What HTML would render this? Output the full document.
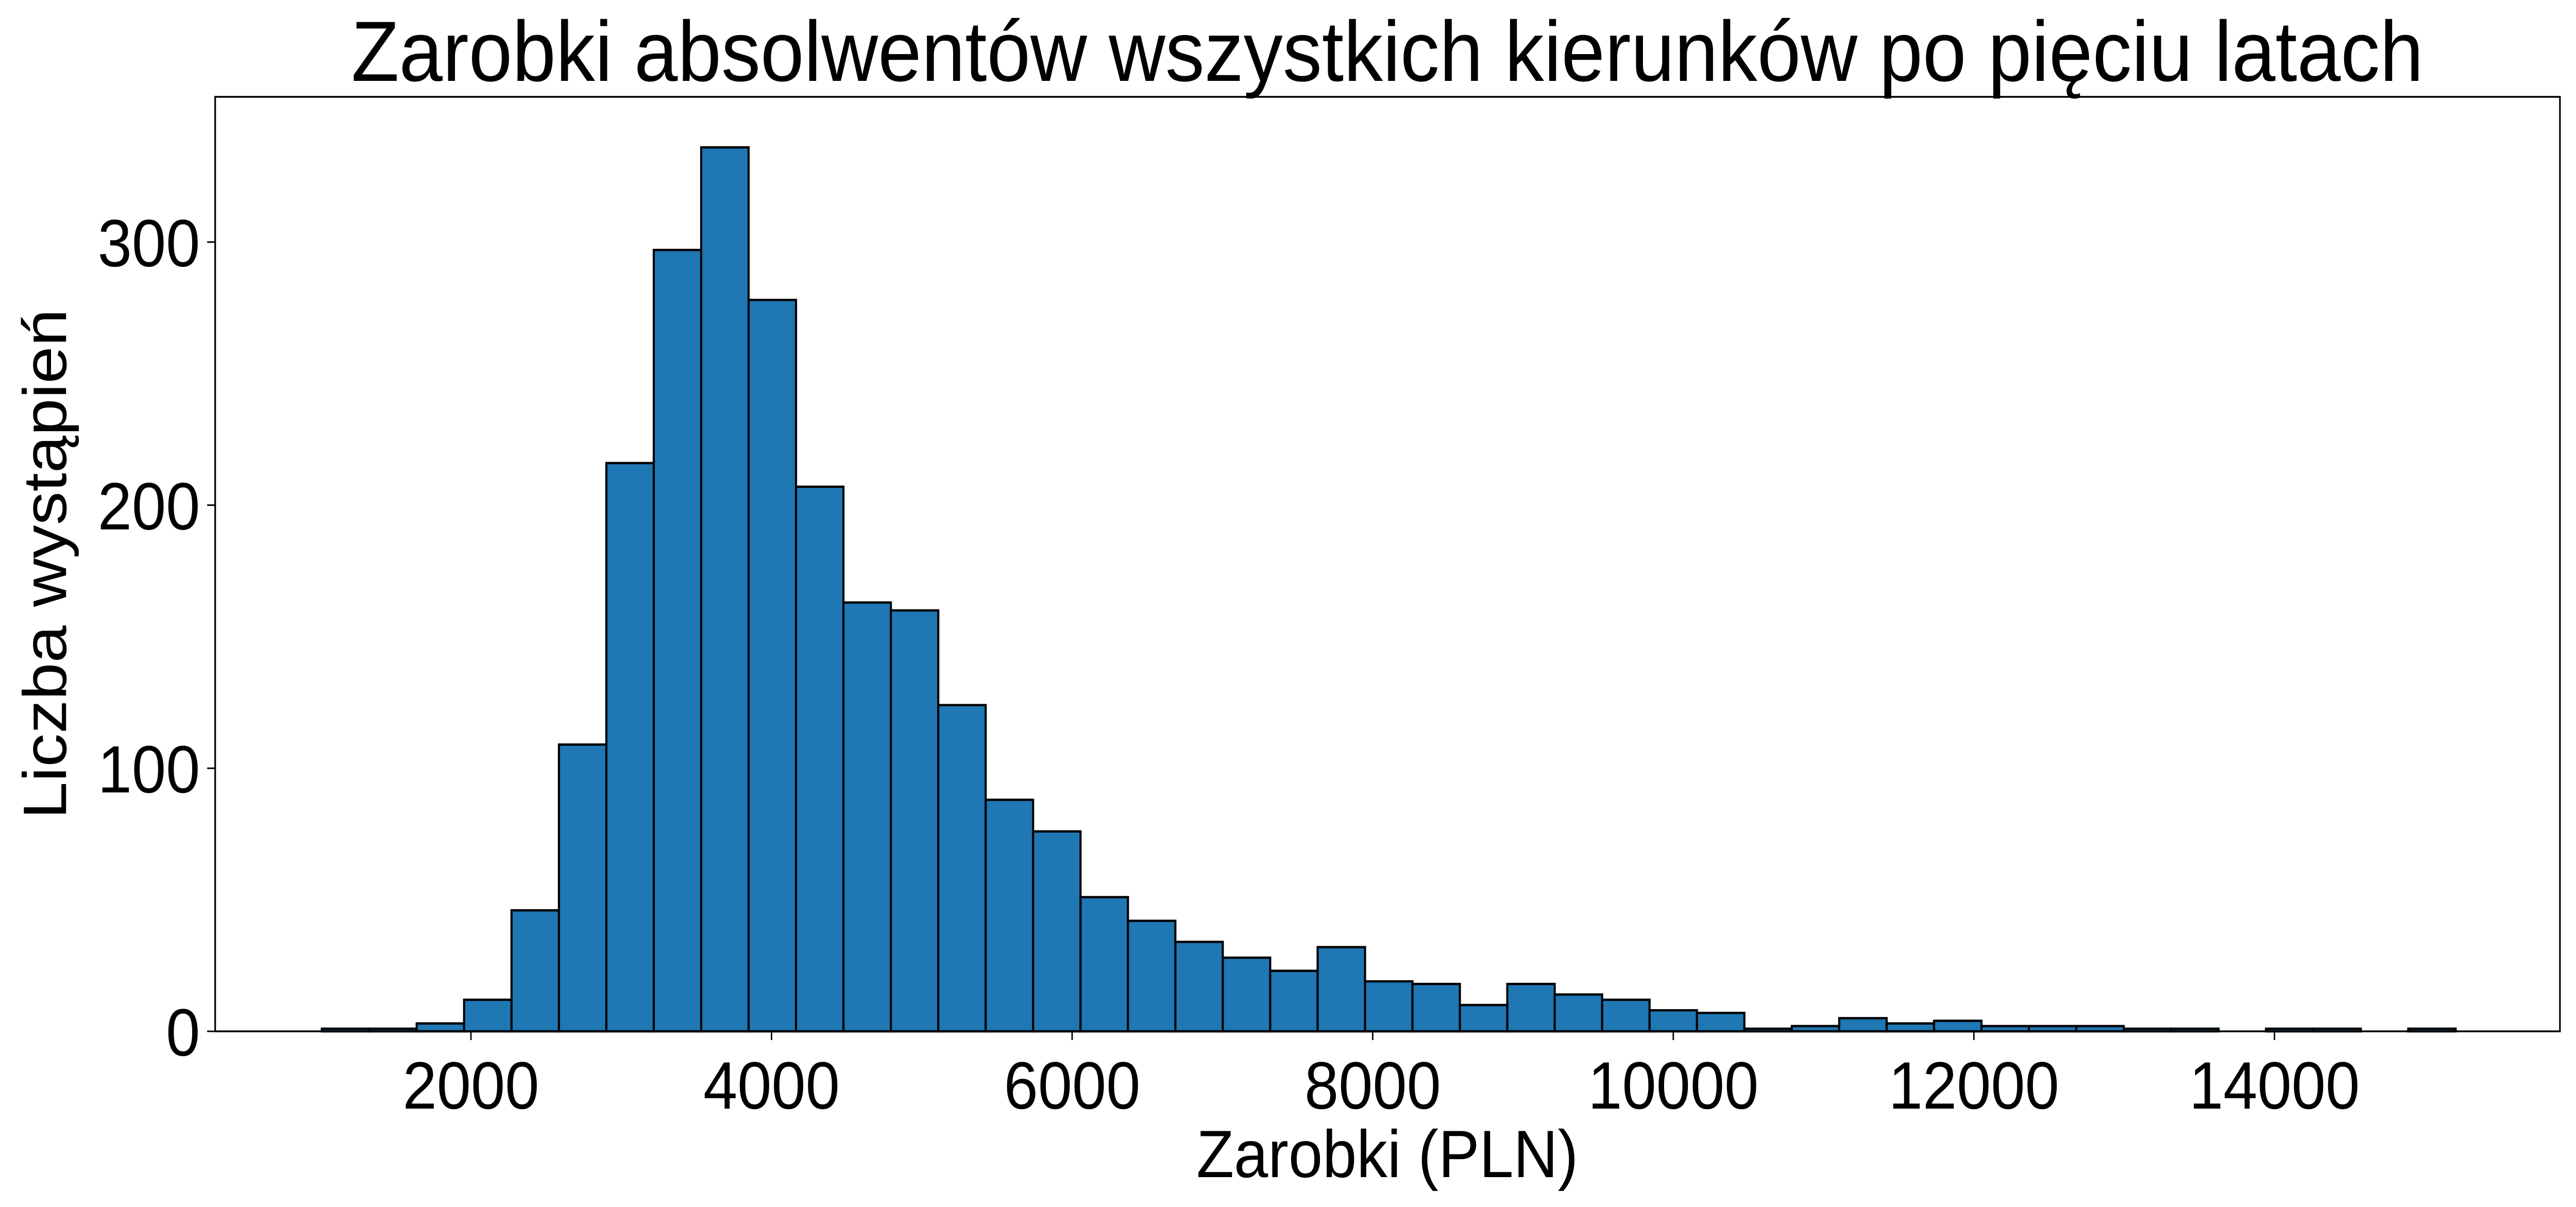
<!DOCTYPE html>
<html><head><meta charset="utf-8"><style>
html,body{margin:0;padding:0;background:#fff;width:100%;height:100%;overflow:hidden;}
svg{display:block;width:100vw;height:100vh;font-family:"Liberation Sans","DejaVu Sans",sans-serif;}
</style></head><body>
<svg id="chart" viewBox="0 0 5459 2343" preserveAspectRatio="none" xmlns="http://www.w3.org/2000/svg">
<rect width="5459" height="2343" fill="#fff"/>
<text x="2940" y="157" font-size="166" text-anchor="middle" fill="#000">Zarobki absolwentów wszystkich kierunków po pięciu latach</text>
<g id="bars"></g>
<g id="axes"></g>
<text x="2940" y="2285" font-size="130" text-anchor="middle" fill="#000">Zarobki (PLN)</text>
<text transform="translate(140,1095) rotate(-90)" font-size="130" text-anchor="middle" fill="#000">Liczba wystąpień</text>
</svg>
<script>
const binStart = 1008;
const binWidth = 315.5;
const counts = [1,1,3,12,46,109,216,297,336,278,207,163,160,124,88,76,51,42,34,28,23,32,19,18,10,18,14,12,8,7,1,2,5,3,4,2,2,2,1,1,0,1,1,0,1];
const xTicks = [2000,4000,6000,8000,10000,12000,14000];
const yTicks = [0,100,200,300];

const L=456,R=5425,T=188,B=2002;
const xPerUnit=0.3185, x0=998;
function xs(v){return x0+(v-2000)*xPerUnit;}
const yMax=355.2;
function ys(v){return B-(v/yMax)*(B-T);}
const NS="http://www.w3.org/2000/svg";
const bars=document.getElementById('bars');
counts.forEach((c,i)=>{
  if(c<=0){
    return;
  }
  const a=xs(binStart+i*binWidth), b=xs(binStart+(i+1)*binWidth);
  const r=document.createElementNS(NS,'rect');
  r.setAttribute('x',a);r.setAttribute('y',ys(c));
  r.setAttribute('width',b-a);r.setAttribute('height',B-ys(c));
  r.setAttribute('fill','#1f77b4');r.setAttribute('stroke','#000');r.setAttribute('stroke-width','4.5');
  
  
  bars.appendChild(r);
});
const axes=document.getElementById('axes');
const frame=document.createElementNS(NS,'rect');
frame.setAttribute('x',L);frame.setAttribute('y',T);frame.setAttribute('width',R-L);frame.setAttribute('height',B-T);
frame.setAttribute('fill','none');frame.setAttribute('stroke','#000');frame.setAttribute('stroke-width','3.5');


axes.appendChild(frame);
xTicks.forEach(v=>{
  const x=xs(v);
  const l=document.createElementNS(NS,'line');
  l.setAttribute('x1',x);l.setAttribute('x2',x);l.setAttribute('y1',B);l.setAttribute('y2',B+17);
  l.setAttribute('stroke','#000');l.setAttribute('stroke-width','3');
  
  
  axes.appendChild(l);
  const t=document.createElementNS(NS,'text');
  t.setAttribute('x',x);t.setAttribute('y',B+150);t.setAttribute('font-size','130');t.setAttribute('text-anchor','middle');
  t.textContent=v;
  
  
  axes.appendChild(t);
});
yTicks.forEach(v=>{
  const y=ys(v);
  const l=document.createElementNS(NS,'line');
  l.setAttribute('x1',L-17);l.setAttribute('x2',L);l.setAttribute('y1',y);l.setAttribute('y2',y);
  l.setAttribute('stroke','#000');l.setAttribute('stroke-width','3');
  
  
  axes.appendChild(l);
  const t=document.createElementNS(NS,'text');
  t.setAttribute('x',L-32);t.setAttribute('y',y+47);t.setAttribute('font-size','130');t.setAttribute('text-anchor','end');
  t.textContent=v;
  
  
  axes.appendChild(t);
});
</script>
</body></html>
